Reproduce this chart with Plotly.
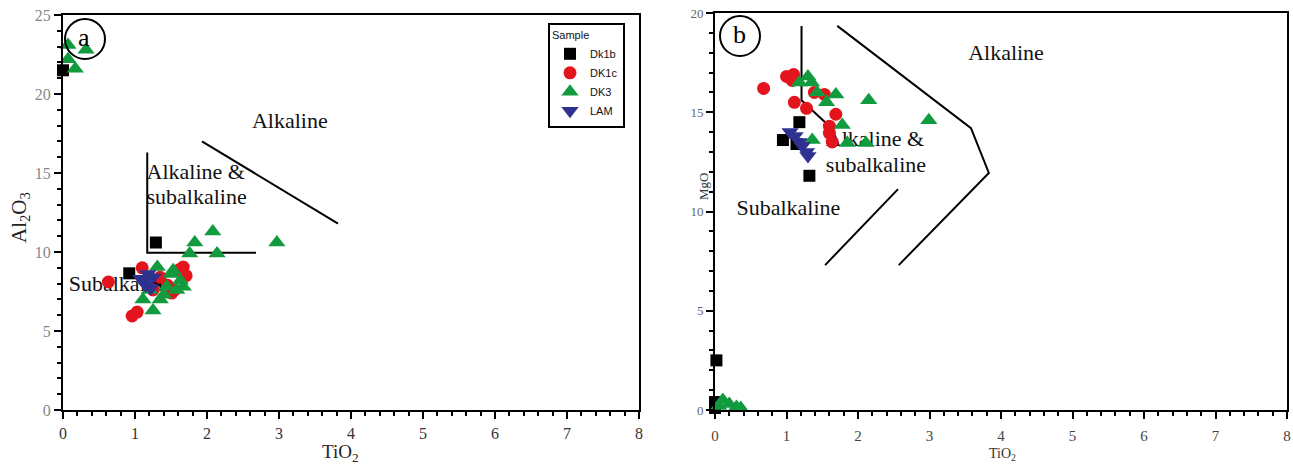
import plotly.graph_objects as go

W, H = 1293, 464

# ---- Panel (a): TiO2 vs Al2O3 ----
dk1b_ti_a = [0.0, 1.29, 0.92, 1.32]
dk1b_al = [21.5, 10.6, 8.65, 8.2]

dk1c_ti_a = [0.63, 0.96, 1.03, 1.10, 1.67, 1.71, 1.51, 1.55, 1.45, 1.62, 1.25, 1.35]
dk1c_al = [8.1, 5.95, 6.2, 9.0, 9.05, 8.5, 7.4, 7.6, 7.9, 8.9, 7.6, 8.4]

dk3_ti_a = [0.07, 0.32, 0.07, 0.17, 2.08, 1.83, 1.76, 2.14, 2.97, 1.31, 1.53,
            1.63, 1.67, 1.58, 1.25, 1.11, 1.35, 1.44, 1.50, 1.20, 1.40]
dk3_al = [23.1, 22.8, 22.2, 21.6, 11.3, 10.6, 9.9, 9.9, 10.6, 9.05, 8.85,
          8.2, 7.8, 7.6, 6.3, 7.0, 7.0, 7.8, 8.6, 7.6, 7.3]

lam_ti_a = [1.08, 1.18, 1.25, 1.15, 1.22, 1.12]
lam_al = [8.3, 8.6, 8.4, 7.9, 7.7, 8.1]

# ---- Panel (b): TiO2 vs MgO ----
dk1b_ti_b = [0.02, 0.0, 0.0, 1.18, 0.95, 1.14, 1.32]
dk1b_mg = [2.5, 0.4, 0.1, 14.5, 13.6, 13.4, 11.8]

dk1c_ti_b = [0.68, 1.0, 1.08, 1.11, 1.28, 1.53, 1.69, 1.6, 1.6, 1.64, 1.39, 1.1]
dk1c_mg = [16.2, 16.8, 16.6, 15.5, 15.2, 15.9, 14.9, 14.3, 13.95, 13.5, 16.0, 16.9]

dk3_ti_b = [1.18, 1.35, 1.43, 1.69, 1.56, 2.15, 2.99, 1.78, 1.85, 2.11, 1.36, 1.30,
            0.05, 0.11, 0.20, 0.30, 0.36]
dk3_mg = [16.5, 16.5, 16.0, 15.9, 15.5, 15.6, 14.6, 14.36, 13.45, 13.45, 13.6, 16.8,
          0.2, 0.5, 0.3, 0.15, 0.1]

lam_ti_b = [1.05, 1.12, 1.18, 1.22, 1.28, 1.30]
lam_mg = [14.0, 13.8, 13.5, 13.3, 13.0, 12.8]

# Field boundaries
a_vert_x = [1.17, 1.17, 2.68]
a_vert_y = [16.3, 9.95, 9.95]
a_diag_x = [1.93, 3.82]
a_diag_y = [17.0, 11.8]

b_inner_x = [1.21, 1.21, 1.57]
b_inner_y = [19.35, 15.6, 14.4]
b_outer_x = [1.71, 3.58, 3.83, 2.57]
b_outer_y = [19.35, 14.2, 11.94, 7.3]
b_low_x = [1.54, 2.56]
b_low_y = [7.3, 11.13]

samples = ["Dk1b", "DK1c", "DK3", "LAM"]
colors = ["#000000", "#e3141c", "#129a3f", "#2f3190"]
symbols = ["square", "circle", "triangle-up", "triangle-down"]
sizes = [12, 13, 15, 15]

SERIF = "Liberation Serif"
SANS = "Liberation Sans"

fig = go.Figure()


# Field labels drawn first so markers sit on top of them
def field_text(x, y, text, axes, pos="middle right"):
    fig.add_trace(go.Scatter(
        x=[x], y=[y], text=[text], mode="text", textposition=pos,
        textfont=dict(family=SERIF, size=22, color="#111"),
        xaxis=axes[0], yaxis=axes[1], showlegend=False, hoverinfo="skip",
        cliponaxis=False))


field_text(3.15, 18.2, "Alkaline", ("x", "y"), "middle center")
field_text(1.16, 15.0, "Alkaline &", ("x", "y"))
field_text(1.16, 13.4, "subalkaline", ("x", "y"))
field_text(0.08, 7.9, "Subalkaline", ("x", "y"))

field_text(4.07, 17.9, "Alkaline", ("x2", "y2"), "middle center")
field_text(1.55, 13.6, "Alkaline &", ("x2", "y2"))
field_text(1.55, 12.25, "subalkaline", ("x2", "y2"))
field_text(0.3, 10.1, "Subalkaline", ("x2", "y2"))

# Boundary lines
for xs, ys, ax in [(a_vert_x, a_vert_y, ("x", "y")), (a_diag_x, a_diag_y, ("x", "y")),
                   (b_inner_x, b_inner_y, ("x2", "y2")), (b_outer_x, b_outer_y, ("x2", "y2")),
                   (b_low_x, b_low_y, ("x2", "y2"))]:
    fig.add_trace(go.Scatter(x=xs, y=ys, mode="lines", line=dict(color="black", width=2),
                             xaxis=ax[0], yaxis=ax[1], showlegend=False, hoverinfo="skip"))

panel_a = [(dk1b_ti_a, dk1b_al), (dk1c_ti_a, dk1c_al), (dk3_ti_a, dk3_al), (lam_ti_a, lam_al)]
panel_b = [(dk1b_ti_b, dk1b_mg), (dk1c_ti_b, dk1c_mg), (dk3_ti_b, dk3_mg), (lam_ti_b, lam_mg)]

for i, name in enumerate(samples):
    fig.add_trace(go.Scatter(
        x=panel_a[i][0], y=panel_a[i][1], mode="markers", name=name,
        marker=dict(color=colors[i], symbol=symbols[i], size=sizes[i], line=dict(width=0)),
        xaxis="x", yaxis="y", cliponaxis=False, legendgroup=name))
for i, name in enumerate(samples):
    fig.add_trace(go.Scatter(
        x=panel_b[i][0], y=panel_b[i][1], mode="markers", name=name,
        marker=dict(color=colors[i], symbol=symbols[i], size=sizes[i], line=dict(width=0)),
        xaxis="x2", yaxis="y2", cliponaxis=False, legendgroup=name, showlegend=False))


def px(x):
    return x / W


def py(y):
    return 1 - y / H


def axis(domain, rng, dtick, minor, tick_size, tick_color, anchor, standoff):
    return dict(domain=domain, range=rng, dtick=dtick, tick0=0, showgrid=False, zeroline=False,
                showline=True, linecolor="black", linewidth=2, mirror=True,
                ticks="outside", ticklen=7, tickwidth=2, tickcolor="black",
                minor=dict(dtick=minor, ticklen=4, tickwidth=1.5, tickcolor="black", ticks="outside"),
                tickfont=dict(family=SERIF, size=tick_size, color=tick_color),
                ticklabelstandoff=standoff,
                anchor=anchor, fixedrange=True, automargin=False)


fig.update_layout(
    template="none",
    width=W, height=H, margin=dict(l=0, r=0, t=0, b=0, pad=0, autoexpand=False),
    paper_bgcolor="white", plot_bgcolor="white",
    font=dict(family=SERIF, color="#222"),
    xaxis=axis([px(63), px(639)], [0, 8], 1, 0.2, 16, "#333", "y", 1),
    yaxis=axis([py(410), py(15)], [0, 25], 5, 1, 16, "#888", "x", 0),
    xaxis2=axis([px(715), px(1287)], [0, 8], 1, 0.2, 15, "#444", "y2", 4),
    yaxis2=axis([py(410), py(13)], [0, 20], 5, 1, 13, "#666", "x2", 0),
    legend=dict(x=px(548), y=py(23), xanchor="left", yanchor="top",
                bgcolor="white", bordercolor="black", borderwidth=2,
                title=dict(text="Sample", font=dict(family=SANS, size=11, color="#111")),
                font=dict(family=SANS, size=11, color="#111"),
                tracegroupgap=0, itemsizing="trace"),
    showlegend=True,
)


def label(x, y, text, size, color="#222", angle=0):
    fig.add_annotation(x=px(x), y=py(y), xref="paper", yref="paper", showarrow=False,
                       xanchor="center", yanchor="middle", text=text, textangle=angle,
                       font=dict(family=SERIF, size=size, color=color))


# Axis titles
label(340, 453, "TiO<sub>2</sub>", 19)
label(20, 218, "Al<sub>2</sub>O<sub>3</sub>", 21, angle=-90)
label(1002, 454, "TiO<sub>2</sub>", 14, "#333")
label(703, 186, "MgO", 13, "#333", angle=-90)

# Panel letters in circles
for cx, cy, letter in [(85, 39, "a"), (740, 36, "b")]:
    fig.add_shape(type="circle", xref="paper", yref="paper",
                  x0=px(cx - 20), x1=px(cx + 20), y0=py(cy + 20), y1=py(cy - 20),
                  line=dict(color="black", width=2))
    label(cx - 1, cy - 2, letter, 26, "black")

fig.write_html("out.html")
